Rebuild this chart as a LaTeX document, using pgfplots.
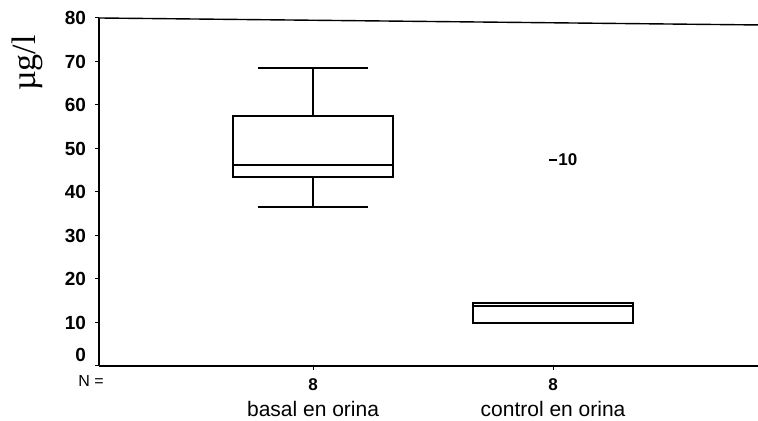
\documentclass[border=0pt]{standalone}
\usepackage{pgfplots}
\pgfplotsset{compat=1.18}
\usepgfplotslibrary{statistics}
\usepackage{fontspec}
\setmainfont{Liberation Sans}
\newfontfamily\seriffont{Liberation Serif}
\begin{document}
\begin{tikzpicture}
\useasboundingbox (0,0) rectangle (379pt,210.5pt);
\begin{axis}[
  at={(49.5pt,27.5pt)}, anchor=south west,
  scale only axis, width=329.5pt, height=174pt,
  xmin=0.108, xmax=2.854, ymin=0, ymax=80,
  axis x line*=bottom, axis y line*=left,
  axis line style={line width=0.7pt, -},
  ytick={10,20,...,80},
  extra y ticks={0},
  extra y tick style={yticklabel style={yshift=5.5pt}},
  xtick={1,2}, xticklabels={8,8},
  tick align=outside, major tick length=2pt,
  tick style={black, line width=0.5pt},
  font=\fontsize{9}{10}\selectfont,
  yticklabel style={font=\fontsize{9.5}{11}\selectfont\bfseries, xshift=-1pt},
  xticklabel style={font=\fontsize{8.5}{10}\selectfont\bfseries, yshift=-1pt},
  /pgf/number format/assume math mode=true,
  clip=false,
  boxplot/draw direction=y,
  every boxplot/.style={black, line width=0.8pt, fill=white},
]
\addplot+[black, fill=white, line width=0.8pt, mark=none,
  boxplot prepared={draw position=1, lower whisker=36.6, lower quartile=43.4,
    median=46.2, upper quartile=57.5, upper whisker=68.5,
    box extend=0.667, whisker extend=0.46}] coordinates {};
\addplot+[black, fill=white, line width=0.8pt, mark=-, mark size=1.8pt,
  mark options={black, line width=0.8pt},
  boxplot prepared={draw position=2, lower whisker=9.9, lower quartile=9.9,
    median=13.8, upper quartile=14.5, upper whisker=14.5,
    box extend=0.667, whisker extend=0.667}] coordinates {(0,47.4)};
\node[anchor=west, font=\fontsize{8.5}{10}\selectfont\bfseries, inner sep=0pt] at (axis cs:2,47.4) {\hspace{2.5pt}10};
\draw[line width=0.7pt] (rel axis cs:0,1) -- (rel axis cs:1,0.98);
\node[font=\fontsize{10.5}{12}\selectfont] at (axis cs:1,0) [yshift=-21.5pt] {basal en orina};
\node[font=\fontsize{10.5}{12}\selectfont] at (axis cs:2,0) [yshift=-21.5pt] {control en orina};
\end{axis}
\node[font=\fontsize{8}{10}\selectfont, anchor=west, inner sep=0pt] at (39pt,20pt) {N =};
\node[rotate=90, font=\seriffont\fontsize{17}{20}\selectfont] at (13.5pt,179pt) {µg/l};
\end{tikzpicture}
\end{document}
